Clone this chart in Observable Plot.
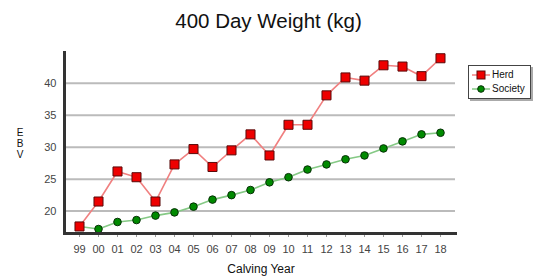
<!DOCTYPE html>
<html><head><meta charset="utf-8">
<script src="https://cdn.jsdelivr.net/npm/d3@7"></script>
<script src="https://cdn.jsdelivr.net/npm/@observablehq/plot@0.6"></script>
<style>
body{margin:0;background:#fff;font-family:"Liberation Sans",Arial,sans-serif;}
#wrap{position:relative;width:537px;height:278px;overflow:hidden;}
#chart svg{position:absolute;left:0;top:0;}
.t{position:absolute;white-space:nowrap;color:#111;}
#title{left:0;width:537px;top:10.5px;text-align:center;font-size:20.5px;line-height:1;}
#ylab{left:14px;width:12px;top:127px;text-align:center;font-size:10px;line-height:11px;}
#xlab{left:161px;width:200px;top:263px;text-align:center;font-size:12px;line-height:1;}
#legend{position:absolute;left:468px;top:65px;width:61px;height:32px;border:1px solid #444;background:#fff;box-shadow:2px 2px 0 #aaa;font-size:10px;line-height:1;}
#legend .row{display:flex;align-items:center;height:14px;margin-left:3px;}
#legend .row:first-child{margin-top:2px;}
#legend .row svg{display:block;flex:none;}
#legend span{margin-left:2px;color:#111;}
</style>
</head><body>
<div id="wrap">
  <div id="chart"></div>
  <div class="t" id="title">400 Day Weight (kg)</div>
  <div class="t" id="ylab">E<br>B<br>V</div>
  <div class="t" id="xlab">Calving Year</div>
  <div id="legend"></div>
</div>
<script>
const years = ["99","00","01","02","03","04","05","06","07","08","09","10","11","12","13","14","15","16","17","18"];
const herd = [17.6,21.5,26.2,25.3,21.5,27.3,29.7,26.9,29.5,32.0,28.7,33.5,33.5,38.1,40.9,40.4,42.8,42.6,41.1,43.9];
const society = [17.6,17.2,18.3,18.6,19.3,19.8,20.7,21.8,22.5,23.3,24.5,25.3,26.5,27.3,28.1,28.7,29.8,30.9,32.0,32.25];
const yTicks = [20,25,30,35,40];
const yDomain = [16.5,44.8];

const rows = years.map((y,i)=>({year:y, herd:herd[i], society:society[i]}));

const chart = Plot.plot({
  width:537, height:278,
  marginTop:52, marginBottom:45, marginLeft:64, marginRight:82,
  style:{fontFamily:"Liberation Sans, Arial, sans-serif", fontSize:"11px", color:"#444", background:"transparent"},
  x:{type:"point", domain:years, padding:0.285},
  y:{domain:yDomain},
  marks:[
    Plot.gridY(yTicks,{stroke:"#bbb", strokeWidth:2, strokeOpacity:1}),
    Plot.axisY(yTicks,{tickSize:0, tickPadding:8, fill:"#444", fontSize:11, label:null}),
    Plot.axisX({tickSize:4, tickPadding:8, stroke:"#999", fill:"#444", fontSize:11, label:null}),
    Plot.line(rows,{x:"year", y:"society", stroke:"#85c985", strokeWidth:1.6}),
    Plot.line(rows,{x:"year", y:"herd", stroke:"#f08080", strokeWidth:1.6}),
    Plot.dot(rows,{x:"year", y:"society", r:3.8, fill:"#008a00", stroke:"#063006", strokeWidth:1}),
    Plot.dot(rows,{x:"year", y:"herd", symbol:"square", r:5.1, fill:"#ee0000", stroke:"#5a0a0a", strokeWidth:1}),
    Plot.frame({anchor:"left", stroke:"#333", strokeWidth:3}),
    Plot.frame({anchor:"bottom", stroke:"#333", strokeWidth:3})
  ]
});
document.getElementById("chart").appendChild(chart);

const leg = document.getElementById("legend");
const items = [
  {name:"Herd", line:"#f08080", fill:"#ee0000", stroke:"#5a0a0a", sq:true},
  {name:"Society", line:"#85c985", fill:"#008a00", stroke:"#063006", sq:false}
];
for (const it of items) {
  const row = document.createElement("div"); row.className="row";
  const mk = it.sq ? `<rect x="5" y="3" width="8" height="8" fill="${it.fill}" stroke="${it.stroke}"/>`
                   : `<circle cx="9" cy="7" r="3.3" fill="${it.fill}" stroke="${it.stroke}"/>`;
  row.innerHTML = `<svg width="18" height="14"><line x1="0" x2="18" y1="7" y2="7" stroke="${it.line}" stroke-width="1.5"/>${mk}</svg><span>${it.name}</span>`;
  leg.appendChild(row);
}
</script>
</body></html>
